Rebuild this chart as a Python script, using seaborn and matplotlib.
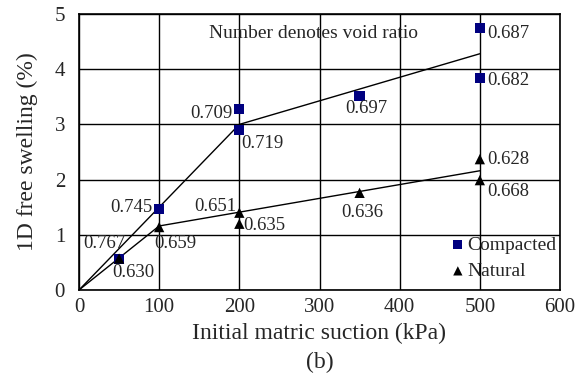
import matplotlib
matplotlib.use("Agg")
import matplotlib.pyplot as plt
import seaborn as sns
import pandas as pd

# Data
comp_x = [50, 100, 200, 200, 350, 500, 500]
comp_y = [0.56, 1.47, 3.28, 2.90, 3.51, 4.75, 3.84]
comp_e = ["0.767", "0.745", "0.709", "0.719", "0.697", "0.687", "0.682"]

nat_x = [50, 100, 200, 200, 350, 500, 500]
nat_y = [0.57, 1.14, 1.40, 1.20, 1.76, 2.37, 1.99]
nat_e = ["0.630", "0.659", "0.651", "0.635", "0.636", "0.628", "0.668"]

comp_fit_x = [0, 200, 500]
comp_fit_y = [0.0, 3.0, 4.28]
nat_fit_x = [0, 100, 500]
nat_fit_y = [0.0, 1.16, 2.16]

# label offsets (data units) and alignment
comp_lab = [(-45, 0.29, "left"), (-8, 0.03, "right"), (-9, -0.09, "right"), (3, -0.24, "left"),
            (8, -0.23, "center"), (9, -0.10, "left"), (9, -0.05, "left")]
nat_lab = [(-9, -0.26, "left"), (-6, -0.29, "left"), (-4, 0.12, "right"), (5, -0.04, "left"),
           (3, -0.35, "center"), (9, 0.0, "left"), (9, -0.21, "left")]

sns.set_style("white")
plt.rcParams["font.family"] = ["Liberation Serif", "DejaVu Serif"]
plt.rcParams["mathtext.fontset"] = "stix"

fig = plt.figure(figsize=(5.79, 3.78), dpi=100)
ax = fig.add_axes([79/579, 1 - 290/378, 481/579, 276/378])

cdf = pd.DataFrame({"x": comp_x, "y": comp_y})
ndf = pd.DataFrame({"x": nat_x, "y": nat_y})
sns.lineplot(x=comp_fit_x, y=comp_fit_y, color="black", lw=1, ax=ax, zorder=2)
sns.lineplot(x=nat_fit_x, y=nat_fit_y, color="black", lw=1, ax=ax, zorder=2)
sns.scatterplot(data=cdf, x="x", y="y", marker="s", s=55, color="#000080",
                edgecolor="none", ax=ax, zorder=3, label="Compacted")
sns.scatterplot(data=ndf, x="x", y="y", marker="^", s=55, color="black",
                edgecolor="none", ax=ax, zorder=4, label="Natural")

for x, y, e, (dx, dy, ha) in zip(comp_x, comp_y, comp_e, comp_lab):
    ax.text(x + dx, y + dy, e, ha=ha, va="center", fontsize=13.5, zorder=5)
for x, y, e, (dx, dy, ha) in zip(nat_x, nat_y, nat_e, nat_lab):
    ax.text(x + dx, y + dy, e, ha=ha, va="center", fontsize=13.5, zorder=5)

ax.text(292, 4.65, "Number denotes void ratio", ha="center", va="center", fontsize=14)

ax.set_xlim(0, 600)
ax.set_ylim(0, 5)
ax.set_xticks(range(0, 601, 100))
ax.set_yticks(range(0, 6))
ax.grid(True, color="black", lw=1)
ax.set_axisbelow(True)
for s in ax.spines.values():
    s.set_color("black")
    s.set_linewidth(1.2)
ax.tick_params(axis="x", length=0, labelsize=15, pad=6)
ax.tick_params(axis="y", length=0, labelsize=15, pad=10)
ax.set_xlabel("Initial matric suction (kPa)", fontsize=17, labelpad=4)
ax.set_ylabel("1D free swelling (%)", fontsize=17, labelpad=12)

leg = ax.legend(loc="upper left", bbox_to_anchor=((452 - 79) / 481, (290 - 236) / 276),
                frameon=False, fontsize=14, handlelength=0.6, handletextpad=0.2,
                labelspacing=0.45, borderaxespad=0.0, borderpad=0.0, markerscale=0.9)

fig.text(320/579, 1 - 362/378, "(b)", ha="center", va="center", fontsize=17)

fig.savefig("out.png", dpi=100)
